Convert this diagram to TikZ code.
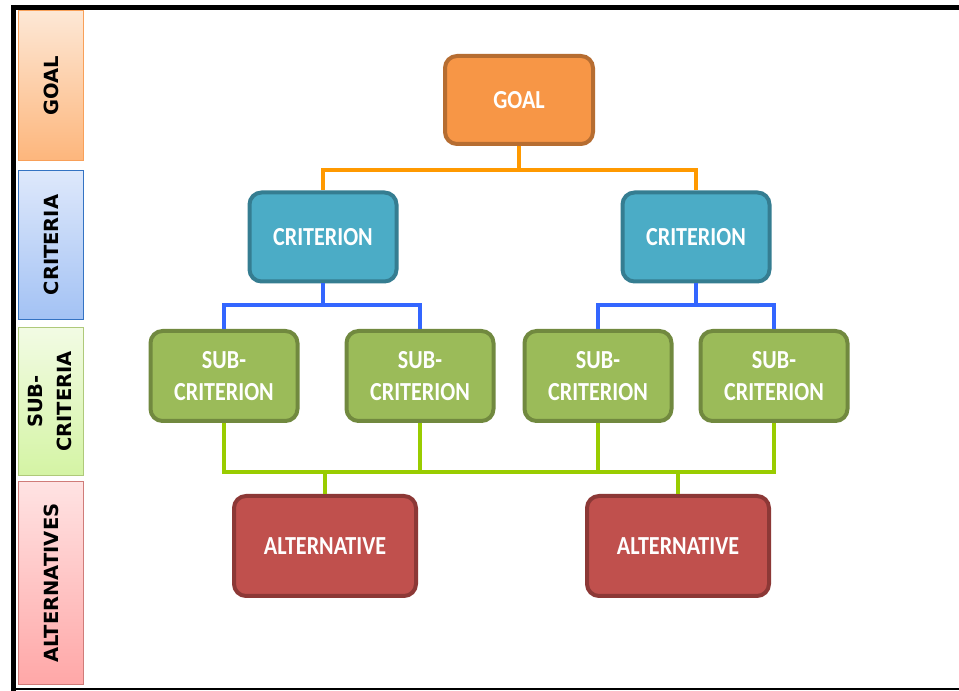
\documentclass[tikz,border=0pt]{standalone}
\usepackage{fontspec}
\setmainfont{Carlito}
\newfontfamily\boxfont{Carlito}[FakeStretch=0.85]
\newfontfamily\bandfont{DejaVu Sans}
\usetikzlibrary{positioning}
\definecolor{goalFill}{HTML}{F79646}
\definecolor{goalEdge}{HTML}{B66D31}
\definecolor{critFill}{HTML}{4BACC6}
\definecolor{critEdge}{HTML}{357D91}
\definecolor{subFill}{HTML}{9BBB59}
\definecolor{subEdge}{HTML}{71893F}
\definecolor{altFill}{HTML}{C0504D}
\definecolor{altEdge}{HTML}{8C3836}
\definecolor{goalLink}{HTML}{FF9900}
\definecolor{critLink}{HTML}{3366FF}
\definecolor{subLink}{HTML}{99CC00}
\definecolor{goalTop}{HTML}{FDE8D6}
\definecolor{goalBot}{HTML}{FDB67C}
\definecolor{critTop}{HTML}{DEE8FB}
\definecolor{critBot}{HTML}{A3C2F4}
\definecolor{subTop}{HTML}{F2FBE4}
\definecolor{subBot}{HTML}{D4F4A4}
\definecolor{altTop}{HTML}{FFE3E3}
\definecolor{altBot}{HTML}{FFA7A7}
\tikzset{
  level/.style={draw, rounded corners=12pt, line width=4pt, text=white, align=center, font=\boxfont\fontsize{26}{32}\selectfont\bfseries},
  goalbox/.style={level, fill=goalFill, draw=goalEdge, minimum width=148pt, minimum height=88pt},
  critbox/.style={level, fill=critFill, draw=critEdge, minimum width=147pt, minimum height=89pt},
  subbox/.style={level, fill=subFill, draw=subEdge, minimum width=147pt, minimum height=90pt},
  altbox/.style={level, fill=altFill, draw=altEdge, minimum width=182pt, minimum height=100pt},
  band/.style={draw, line width=1.2pt, minimum width=65pt, inner sep=0pt, align=center, font=\bandfont\fontsize{19.5}{29}\selectfont\bfseries},
  link/.style={line width=4pt, line join=miter}
}
\newcommand{\sideways}[1]{\rotatebox{90}{#1}}

\begin{document}
\begin{tikzpicture}[x=1pt,y=1pt]
  \useasboundingbox (0,0) rectangle (959,691);
  % frame
  \fill[white] (0,0) rectangle (959,691);
  \draw[line width=5pt] (11,683.5) -- (959,683.5);
  \draw[line width=5pt] (13.5,686) -- (13.5,0);
  \draw[line width=1.2pt] (11,2) -- (959,2);

  % level bands
  \node[band, draw=goalFill!90, top color=goalTop, bottom color=goalBot, minimum height=150pt] (bgoal) at (51,605.5) {\sideways{GOAL}};
  \node[band, draw=critLink!45!critEdge, top color=critTop, bottom color=critBot, minimum height=149pt] (bcrit) at (51,446) {\sideways{CRITERIA}};
  \node[band, draw=subFill!80, top color=subTop, bottom color=subBot, minimum height=148pt] (bsub) at (51,289.5) {\sideways{\begin{tabular}{@{}c@{}}SUB-\\CRITERIA\end{tabular}}};
  \node[band, draw=altFill!75, top color=altTop, bottom color=altBot, minimum height=203pt] (balt) at (51,108) {\sideways{ALTERNATIVES}};

  % hierarchy
  \node[goalbox] (goal) at (519,591) {GOAL};
  \node[critbox] (critA) at (323,454) {CRITERION};
  \node[critbox] (critB) at (696,454) {CRITERION};
  \node[subbox] (subA) at (224,315) {SUB-\\CRITERION};
  \node[subbox] (subB) at (420,315) {SUB-\\CRITERION};
  \node[subbox] (subC) at (598,315) {SUB-\\CRITERION};
  \node[subbox] (subD) at (774,315) {SUB-\\CRITERION};
  \node[altbox] (altA) at (325,145) {ALTERNATIVE};
  \node[altbox] (altB) at (678,145) {ALTERNATIVE};

  \draw[link, goalLink] (goal.south) -- ++(0,-24) -| (critA.north);
  \draw[link, goalLink] (goal.south) -- ++(0,-24) -| (critB.north);
  \draw[link, critLink] (critA.south) -- ++(0,-22) -| (subA.north);
  \draw[link, critLink] (critA.south) -- ++(0,-22) -| (subB.north);
  \draw[link, critLink] (critB.south) -- ++(0,-22) -| (subC.north);
  \draw[link, critLink] (critB.south) -- ++(0,-22) -| (subD.north);
  \draw[link, subLink] (subA.south) -- ++(0,-49) -| (subD.south);
  \draw[link, subLink] (subB.south) -- ++(0,-49);
  \draw[link, subLink] (subC.south) -- ++(0,-49);
  \draw[link, subLink] (altA.north) -- ++(0,22);
  \draw[link, subLink] (altB.north) -- ++(0,22);
\end{tikzpicture}
\end{document}
